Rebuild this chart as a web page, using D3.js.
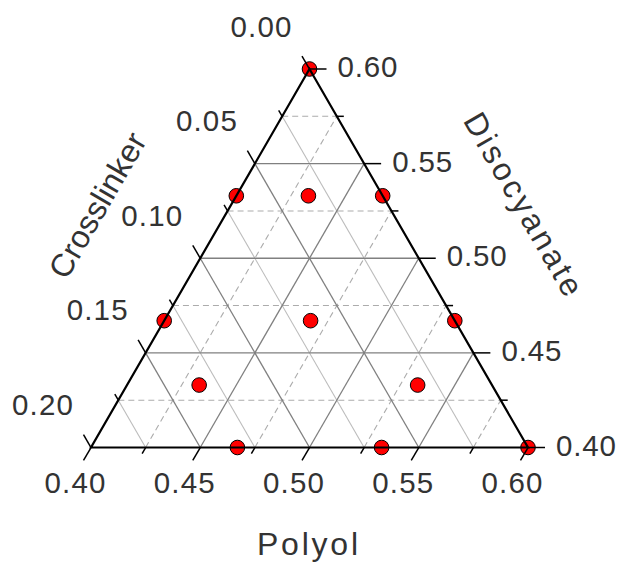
<!DOCTYPE html>
<html lang="en">
<head>
<meta charset="utf-8">
<title>Ternary design</title>
<style>
  body { margin: 0; background: #fff; }
  text {
    font-family: "Liberation Sans", Arial, sans-serif;
    fill: #333;
  }
  .tick-label { font-size: 29.5px; }
  .axis-title { font-size: 32px; }
  .frame { fill: none; stroke: #000; stroke-width: 2.2; stroke-linejoin: miter; }
  .tick { stroke: #000; stroke-width: 1.5; }
  .grid-major { stroke: #808080; stroke-width: 1.3; }
  .grid-minor-solid { stroke: #bcbcbc; stroke-width: 1.1; }
  .grid-minor-dash { stroke: #acacac; stroke-width: 1.1; stroke-dasharray: 6,4; }
  circle.pt { fill: #ff0000; stroke: #000; stroke-width: 1; }
</style>
</head>
<body>
<script src="https://cdn.jsdelivr.net/npm/d3@7/dist/d3.min.js"></script>
<script>
  // Axis titles
  var polyolTitle = "Polyol",
      diisoTitle = "Disocyanate",
      crossTitle = "Crosslinker";

  // Tick values (major every 0.05, minor every 0.025)
  var polyolTicks = [0.400, 0.425, 0.450, 0.475, 0.500, 0.525, 0.550, 0.575, 0.600];
  var diisoTicks  = [0.400, 0.425, 0.450, 0.475, 0.500, 0.525, 0.550, 0.575, 0.600];
  var crossTicks  = [0.000, 0.025, 0.050, 0.075, 0.100, 0.125, 0.150, 0.175, 0.200];

  // Design points: mass fractions of each component
  var polyol      = [0.400, 0.400, 0.400, 0.467, 0.533, 0.600, 0.467, 0.533, 0.433, 0.467, 0.433, 0.533];
  var diiso       = [0.600, 0.533, 0.467, 0.533, 0.467, 0.400, 0.400, 0.400, 0.533, 0.467, 0.433, 0.433];
  var crosslinker = [0.000, 0.067, 0.133, 0.000, 0.000, 0.000, 0.133, 0.067, 0.034, 0.066, 0.134, 0.034];

  var w = 621, h = 563;

  // Triangle corners: apex = max Disocyanate, right = max Polyol, left = max Crosslinker
  var apexPt = [309.5, 69],
      rightPt = [528, 447.5],
      leftPt = [91, 447.5];

  var svg = d3.select("body").append("svg")
    .attr("width", w)
    .attr("height", h);

  // Each component is scaled to its barycentric weight
  var pScale = d3.scaleLinear().domain([0.4, 0.6]).range([0, 1]);
  var dScale = d3.scaleLinear().domain([0.4, 0.6]).range([0, 1]);
  var cScale = d3.scaleLinear().domain([0.0, 0.2]).range([0, 1]);
  var fmt = d3.format(".2f");

  function pos(p, d, c) {
    var a = dScale(d), b = pScale(p), g = cScale(c), s = a + b + g;
    return [
      (a * apexPt[0] + b * rightPt[0] + g * leftPt[0]) / s,
      (a * apexPt[1] + b * rightPt[1] + g * leftPt[1]) / s
    ];
  }

  // Grid lines, one set per component (skip the edges)
  var grid = svg.append("g").attr("class", "grid");
  var lines = [];
  d3.range(1, 8).forEach(function(i) {
    var major = i % 2 === 0;
    var d = diisoTicks[i], p = polyolTicks[i], c = crossTicks[i];
    // constant Disocyanate: horizontal
    lines.push({ a: pos(0.4, d, 0.6 - d), b: pos(1 - d, d, 0), cls: major ? "grid-major" : "grid-minor-dash" });
    // constant Polyol: parallel to left side
    lines.push({ a: pos(p, 0.4, 0.6 - p), b: pos(p, 1 - p, 0), cls: major ? "grid-major" : "grid-minor-dash" });
    // constant Crosslinker: parallel to right side
    lines.push({ a: pos(0.4, 0.6 - c, c), b: pos(0.6 - c, 0.4, c), cls: major ? "grid-major" : "grid-minor-solid" });
  });
  lines.sort(function(x, y) { return (x.cls === "grid-major") - (y.cls === "grid-major"); });
  grid.selectAll("line")
    .data(lines)
    .enter()
    .append("line")
    .attr("class", function(l) { return l.cls; })
    .attr("x1", function(l) { return l.a[0]; })
    .attr("y1", function(l) { return l.a[1]; })
    .attr("x2", function(l) { return l.b[0]; })
    .attr("y2", function(l) { return l.b[1]; });

  // Data points
  var points = polyol.map(function(p, i) { return [p, diiso[i], crosslinker[i]]; });
  svg.append("g").selectAll("circle")
    .data(points)
    .enter()
    .append("circle")
    .attr("class", "pt")
    .attr("cx", function(d) { return pos(d[0], d[1], d[2])[0]; })
    .attr("cy", function(d) { return pos(d[0], d[1], d[2])[1]; })
    .attr("r", 7.3);

  // Frame on top of the points
  svg.append("path")
    .attr("class", "frame")
    .attr("d", "M" + apexPt + "L" + rightPt + "L" + leftPt + "Z");

  var axes = svg.append("g");
  var s3 = Math.sqrt(3) / 2;

  // Polyol axis (bottom), ticks point down-left
  polyolTicks.forEach(function(t, i) {
    var o = pos(t, 0.4, 0.6 - t), len = i % 2 === 0 ? 15 : 7;
    axes.append("line").attr("class", "tick")
      .attr("x1", o[0]).attr("y1", o[1])
      .attr("x2", o[0] - 0.5 * len).attr("y2", o[1] + s3 * len);
    if (i % 2 === 0) {
      axes.append("text").attr("class", "tick-label")
        .attr("x", o[0] - 16).attr("y", o[1] + 35)
        .attr("dy", "0.36em")
        .attr("text-anchor", "middle")
        .attr("textLength", 61)
        .text(fmt(t));
    }
  });

  // Disocyanate axis (right), ticks point right
  diisoTicks.forEach(function(t, i) {
    var o = pos(1 - t, t, 0), len = i % 2 === 0 ? 17 : 7;
    axes.append("line").attr("class", "tick")
      .attr("x1", o[0]).attr("y1", o[1])
      .attr("x2", o[0] + len).attr("y2", o[1]);
    if (i % 2 === 0) {
      axes.append("text").attr("class", "tick-label")
        .attr("x", o[0] + 28).attr("y", o[1] - 2.5)
        .attr("dy", "0.36em")
        .attr("textLength", 60)
        .text(fmt(t));
    }
  });

  // Crosslinker axis (left), ticks point up-left
  crossTicks.forEach(function(t, i) {
    var o = pos(0.4, 0.6 - t, t), len = i % 2 === 0 ? 15 : 7;
    axes.append("line").attr("class", "tick")
      .attr("x1", o[0]).attr("y1", o[1])
      .attr("x2", o[0] - 0.5 * len).attr("y2", o[1] - s3 * len);
    if (i % 2 === 0) {
      axes.append("text").attr("class", "tick-label")
        .attr("x", o[0] - 18).attr("y", o[1] - 43)
        .attr("dy", "0.36em")
        .attr("text-anchor", "end")
        .attr("textLength", 61)
        .text(fmt(t));
    }
  });

  // Axis titles
  svg.append("text").attr("class", "axis-title")
    .attr("x", 307.5).attr("y", 543)
    .attr("dy", "0.36em")
    .attr("text-anchor", "middle")
    .attr("textLength", 101)
    .text(polyolTitle);

  svg.append("text").attr("class", "axis-title")
    .attr("transform", "translate(97,205) rotate(-60)")
    .attr("dy", "0.36em")
    .attr("text-anchor", "middle")
    .attr("textLength", 162)
    .text(crossTitle);

  svg.append("text").attr("class", "axis-title")
    .attr("transform", "translate(524,204) rotate(60)")
    .attr("dy", "0.36em")
    .attr("text-anchor", "middle")
    .attr("textLength", 206)
    .text(diisoTitle);
</script>
</body>
</html>
